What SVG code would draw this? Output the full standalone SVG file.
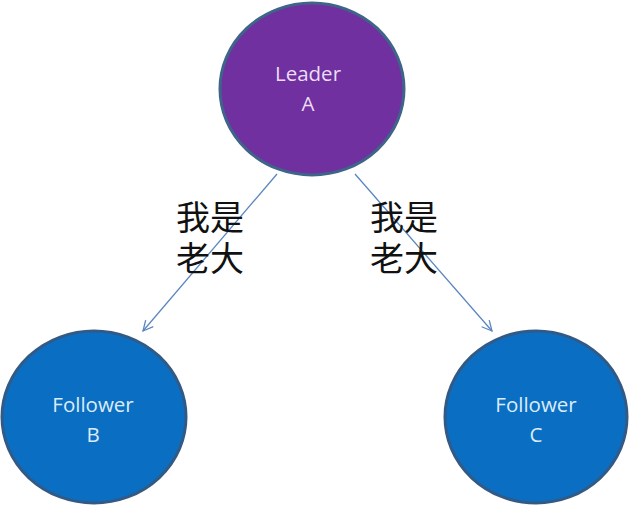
<svg xmlns="http://www.w3.org/2000/svg" width="632" height="506" viewBox="0 0 632 506">
<style>
.node-l{fill:#7030A0;stroke:#3F6489;stroke-width:3}
.node-f{fill:#0A6FC2;stroke:#325A86;stroke-width:3}
.lbl{font-family:"Open Sans","Liberation Sans",sans-serif;font-size:20.5px;text-anchor:middle}
.cn{font-family:"Noto Sans CJK SC",sans-serif;font-size:34px;fill:#111}
.conn{stroke:#5A86C0;stroke-width:1.3;fill:none;marker-end:url(#arr)}
</style>
<defs>
<marker id="arr" viewBox="0 0 12 12" refX="11" refY="6" markerWidth="12" markerHeight="12" markerUnits="userSpaceOnUse" orient="auto">
<path d="M1,1 L11,6 L1,11" fill="none" stroke="#5A86C0" stroke-width="1.3"/>
</marker>
</defs>
<g id="connectors">
<line class="conn" x1="277" y1="174" x2="143" y2="331"/>
<line class="conn" x1="355" y1="174" x2="492" y2="331"/>
</g>
<g id="leaderA">
<ellipse class="node-l" cx="312" cy="89" rx="92" ry="86"/>
<text class="lbl" x="308" y="81" fill="#EBDDF5">Leader</text>
<text class="lbl" x="308" y="111" fill="#EBDDF5">A</text>
</g>
<g id="followerB">
<ellipse class="node-f" cx="94" cy="417" rx="92" ry="86"/>
<text class="lbl" x="93" y="412" fill="#DCEBFA">Follower</text>
<text class="lbl" x="93" y="442" fill="#DCEBFA">B</text>
</g>
<g id="followerC">
<ellipse class="node-f" cx="536" cy="417" rx="91" ry="86"/>
<text class="lbl" x="536" y="412" fill="#DCEBFA">Follower</text>
<text class="lbl" x="536" y="442" fill="#DCEBFA">C</text>
</g>
<g id="label-left">
<text class="cn"><tspan x="176" y="230">我是</tspan><tspan x="176" y="271">老大</tspan></text>
</g>
<g id="label-right">
<text class="cn"><tspan x="370" y="230">我是</tspan><tspan x="370" y="271">老大</tspan></text>
</g>
</svg>
